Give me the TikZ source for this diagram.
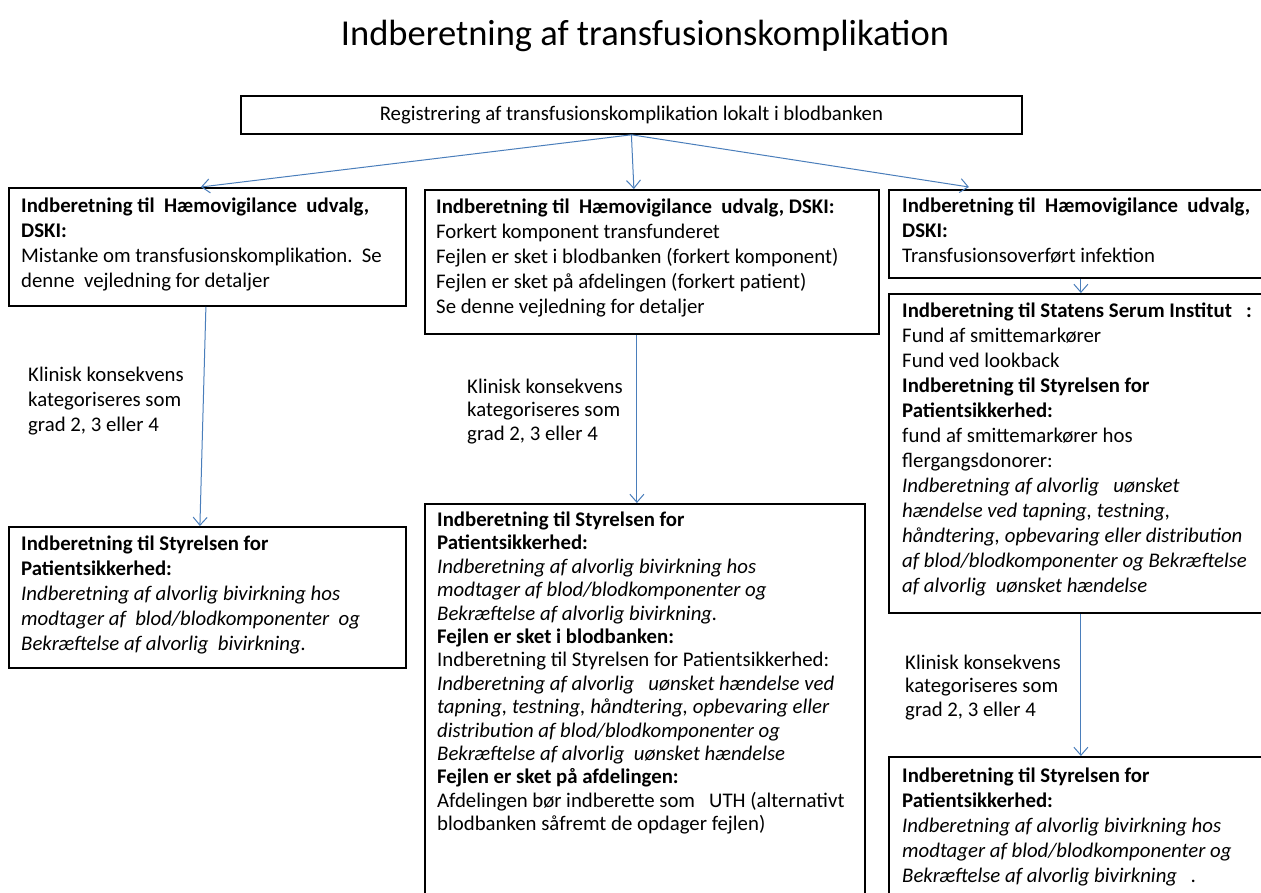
\documentclass[tikz,border=0pt]{standalone}
\usepackage{fontspec}
\setmainfont{Carlito}
\usetikzlibrary{arrows.meta,calc}
\definecolor{arr}{RGB}{74,126,187}
\begin{document}
\begin{tikzpicture}[x=1pt,y=-1pt,
  box/.style={draw=black, line width=1.8pt, anchor=north west, inner sep=0pt},
  txt/.style={anchor=north west, inner sep=0pt, align=left, font=\fontsize{20.8}{25}\selectfont},
  txtb/.style={anchor=north west, inner sep=0pt, align=left, font=\fontsize{20.8}{23.4}\selectfont},
  conn/.style={draw=arr, line width=1pt, -{Straight Barb[length=8pt,width=14pt,line width=1pt]}}]
\fill[white] (0,0) rectangle (1261,893);
\useasboundingbox (0,0) rectangle (1261,893);

\node[font=\fontsize{36.5}{42}\selectfont] (title) at (645,36) {Indberetning af transfusionskomplikation};

\node[box, minimum width=781pt, minimum height=38pt, font=\fontsize{20.8}{25}\selectfont] (top) at (240,95) {Registrering af transfusionskomplikation lokalt i blodbanken};

\node[box, minimum width=397pt, minimum height=118pt] (lb1) at (8,187) {};
\node[box, minimum width=454pt, minimum height=144pt] (mb1) at (424,189) {};
\node[box, minimum width=384pt, minimum height=88pt] (rb1) at (888,189) {};
\node[box, minimum width=384pt, minimum height=319pt] (rb2) at (888,293) {};
\node[box, minimum width=397pt, minimum height=141pt] (lb2) at (8,526) {};
\node[box, minimum width=440pt, minimum height=420pt] (mb2) at (424,503) {};
\node[box, minimum width=384pt, minimum height=200pt] (rb3) at (888,756) {};

\node[txt] (tlb1) at (21,195) {\strut\textbf{Indberetning til\ \ Hæmovigilance\ \ udvalg,}\\ \textbf{DSKI:}\\ Mistanke om transfusionskomplikation.\ \ Se\\ denne\ \ vejledning for detaljer};

\node[txt] (tmb1) at (436,196) {\strut\textbf{Indberetning til\ \ Hæmovigilance\ \ udvalg, DSKI:}\\ Forkert komponent transfunderet\\ Fejlen er sket i blodbanken (forkert komponent)\\ Fejlen er sket på afdelingen (forkert patient)\\ Se denne vejledning for detaljer};

\node[txt] (trb1) at (902,195) {\strut\textbf{Indberetning til\ \ Hæmovigilance\ \ udvalg,}\\ \textbf{DSKI:}\\ Transfusionsoverført infektion};

\node[txt] (trb2) at (902,300) {\strut\textbf{Indberetning til Statens Serum Institut\ \ \ :}\\ Fund af smittemarkører\\ Fund ved lookback\\ \textbf{Indberetning til Styrelsen for}\\ \textbf{Patientsikkerhed:}\\ fund af smittemarkører hos\\ flergangsdonorer:\\ \textit{Indberetning af alvorlig\ \ \ uønsket}\\ \textit{hændelse ved tapning, testning,}\\ \textit{håndtering, opbevaring eller distribution}\\ \textit{af blod/blodkomponenter og Bekræftelse}\\ \textit{af alvorlig\ \ uønsket hændelse}};

\node[txt] (tlb2) at (21,533) {\strut\textbf{Indberetning til Styrelsen for}\\ \textbf{Patientsikkerhed:}\\ \textit{Indberetning af alvorlig bivirkning hos}\\ \textit{modtager af\ \ blod/blodkomponenter\ \ og}\\ \textit{Bekræftelse af alvorlig\ \ bivirkning.}};

\node[txtb] (tmb2) at (437,510) {\strut\textbf{Indberetning til Styrelsen for}\\ \textbf{Patientsikkerhed:}\\ \textit{Indberetning af alvorlig bivirkning hos}\\ \textit{modtager af blod/blodkomponenter og}\\ \textit{Bekræftelse af alvorlig bivirkning.}\\ \textbf{Fejlen er sket i blodbanken:}\\ Indberetning til Styrelsen for Patientsikkerhed:\\ \textit{Indberetning af alvorlig\ \ \ uønsket hændelse ved}\\ \textit{tapning, testning, håndtering, opbevaring eller}\\ \textit{distribution af blod/blodkomponenter og}\\ \textit{Bekræftelse af alvorlig\ \ uønsket hændelse}\\ \textbf{Fejlen er sket på afdelingen:}\\ Afdelingen bør indberette som\ \ \ UTH (alternativt\\ blodbanken såfremt de opdager fejlen)};

\node[txt] (trb3) at (902,765) {\strut\textbf{Indberetning til Styrelsen for}\\ \textbf{Patientsikkerhed:}\\ \textit{Indberetning af alvorlig bivirkning hos}\\ \textit{modtager af blod/blodkomponenter og}\\ \textit{Bekræftelse af alvorlig bivirkning\ \ \ .}};

\node[txt] (k1) at (28,364) {\strut Klinisk konsekvens\\ kategoriseres som\\ grad 2, 3 eller 4};
\node[txtb] (k2) at (467,377) {\strut Klinisk konsekvens\\ kategoriseres som\\ grad 2, 3 eller 4};
\node[txtb] (k3) at (905,653) {\strut Klinisk konsekvens\\ kategoriseres som\\ grad 2, 3 eller 4};

\draw[conn] (top.south) -- ([xshift=-6.5pt]lb1.north);
\draw[conn] (top.south) -- ([xshift=-18pt]mb1.north);
\draw[conn] (top.south) -- ([xshift=-112pt,yshift=2pt]rb1.north);
\draw[conn] (rb1.south) -- (rb2.north);
\draw[conn] ([xshift=-1.5pt]lb1.south) -- ([xshift=-7.5pt]lb2.north);
\draw[conn] ([xshift=-15pt]mb1.south) -- ([xshift=-8pt]mb2.north);
\draw[conn] (rb2.south) -- (rb3.north);
\end{tikzpicture}
\end{document}
